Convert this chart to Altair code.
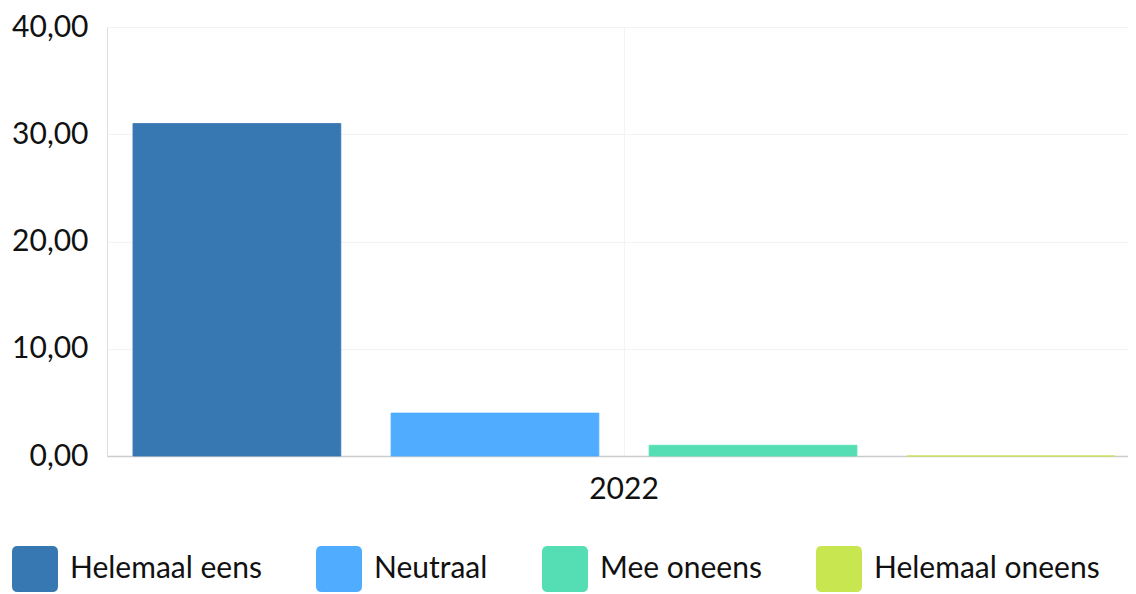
import altair as alt
import pandas as pd

years = ["2022"]
categories = ["Helemaal eens", "Neutraal", "Mee oneens", "Helemaal oneens"]
values = [31, 4, 1, 0]
colors = ["#3777B2", "#4FACFF", "#55DEB4", "#C8E650"]

df = pd.DataFrame({
    "jaar": years * len(categories),
    "antwoord": categories,
    "waarde": values,
})

rounded = "M -0.75 -1 H 0.75 Q 1 -1 1 -0.75 V 0.75 Q 1 1 0.75 1 H -0.75 Q -1 1 -1 0.75 V -0.75 Q -1 -1 -0.75 -1 Z"

color_scale = alt.Scale(domain=categories, range=colors)

chart = alt.Chart(df).mark_bar(strokeWidth=1, strokeOpacity=0.8).encode(
    x=alt.X("jaar:N", title=None,
            scale=alt.Scale(paddingOuter=0, paddingInner=0, range=[0, 1034]),
            axis=alt.Axis(labelAngle=0, ticks=False, domain=True, domainColor="#cccccc",
                          domainWidth=1.5, grid=True, gridColor="#f3f3f3",
                          labelFontSize=30, labelColor="#111111", labelPadding=18,
                          labelFont="Lato", labelLimit=0)),
    xOffset=alt.XOffset("antwoord:N", sort=categories,
                        scale=alt.Scale(paddingInner=0.1947, paddingOuter=0.1007)),
    y=alt.Y("waarde:Q", title=None,
            scale=alt.Scale(domain=[0, 40]),
            axis=alt.Axis(values=[0, 10, 20, 30, 40], domain=False, ticks=False,
                          gridColor="#f3f3f3", labelFontSize=30, labelColor="#111111",
                          labelPadding=19, labelFont="Lato", labelLimit=0,
                          labelExpr="replace(format(datum.value, '.2f'), '.', ',')")),
    color=alt.Color("antwoord:N", sort=categories, scale=color_scale, title=None,
                    legend=alt.Legend(orient="none", legendX=-95, legendY=519,
                                      direction="horizontal", columns=4,
                                      symbolType=rounded, symbolSize=2116,
                                      symbolStrokeWidth=0, symbolOpacity=1,
                                      labelFontSize=30, labelFont="Lato",
                                      labelColor="#111111", labelOffset=12,
                                      labelLimit=0,
                                      columnPadding=54, padding=0)),
    stroke=alt.Stroke("antwoord:N", sort=categories, scale=color_scale, legend=None),
).properties(
    width=1021,
    height=429,
    autosize=alt.AutoSizeParams(type="none"),
    padding={"left": 99, "top": 19, "right": 0, "bottom": 138},
).configure_view(
    stroke=None
).configure(font="Lato")

chart.save("out.html", embed_options={"renderer": "svg", "actions": False})
